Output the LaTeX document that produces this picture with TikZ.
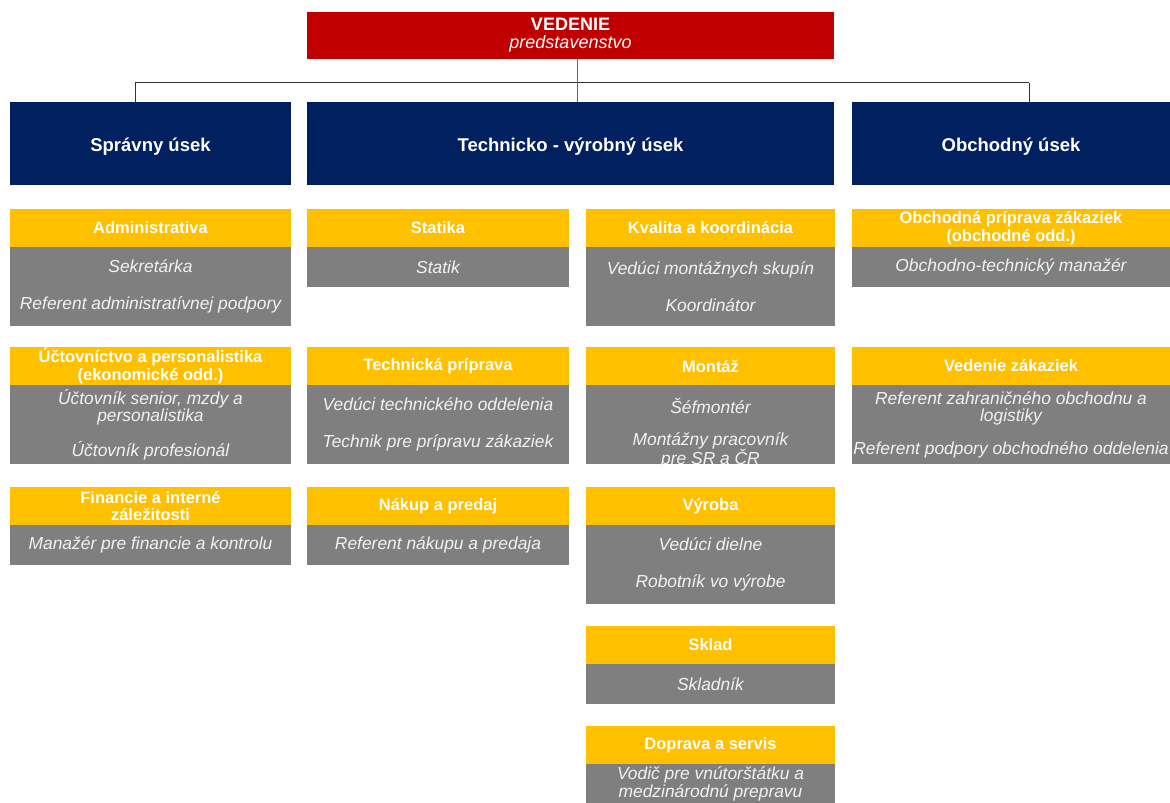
\documentclass[tikz,border=0pt]{standalone}
\usepackage{fontspec}
\setmainfont{Liberation Sans}
\usetikzlibrary{positioning,calc}
\definecolor{vedred}{RGB}{192,0,0}
\definecolor{usekblue}{RGB}{0,32,96}
\definecolor{oddyellow}{RGB}{255,192,0}
\definecolor{pracgray}{RGB}{127,127,127}
\definecolor{pracwhite}{RGB}{242,242,242}
\tikzstyle{vblock} = [fill=vedred, text=white, inner sep=0pt,
    minimum width=527pt, minimum height=47pt, align=center,
    font=\fontsize{18}{18}\selectfont]
\tikzstyle{ublock} = [fill=usekblue, text=white, inner sep=0pt,
    minimum height=83pt, text height=16pt, text depth=0pt,
    font=\fontsize{18.5}{20}\selectfont\bfseries]
\tikzstyle{oblock} = [fill=oddyellow, text=white, inner sep=0pt,
    minimum height=38pt, align=center,
    font=\fontsize{16.5}{17.5}\selectfont\bfseries]
\tikzstyle{pblock} = [fill=pracgray, text=pracwhite, inner sep=0pt,
    align=center, font=\fontsize{17.4}{17.5}\selectfont\itshape]
\tikzstyle{conn} = [draw=black!80, line width=0.9pt]
\tikzstyle{colA} = [minimum width=281pt]
\tikzstyle{colB} = [minimum width=262pt]
\tikzstyle{colC} = [minimum width=249pt]
\tikzstyle{colD} = [minimum width=318pt]
\tikzstyle{oneprac} = [minimum height=40pt]
\tikzstyle{twoprac} = [minimum height=79pt]

\begin{document}
\begin{tikzpicture}[x=1pt, y=-1pt, every node/.style={outer sep=0pt}]
\useasboundingbox (0,0) rectangle (1170,803);

% vedenie a useky
\node (vedenie) [vblock, anchor=north west] at (307,12) {{\bfseries VEDENIE}\\{\itshape predstavenstvo}};
\node (spravny) [ublock, colA, anchor=north west] at (10,102) {Správny úsek};
\node (technicky) [ublock, minimum width=527pt, right=16pt of spravny] {Technicko - výrobný úsek};
\node (obchodny) [ublock, colD, right=18pt of technicky] {Obchodný úsek};

\coordinate (busL) at (135,82.5);
\coordinate (busR) at (1029,82.5);
\draw[conn] (busL) -- (busR);
\draw[conn] (busL) -- (busL |- spravny.north);
\draw[conn] (busR) -- (busR |- obchodny.north);
\draw[conn,draw=black!60] ([xshift=6.5pt]vedenie.south) -- ([xshift=6.5pt]technicky.north);

% spravny usek
\node (admin) [oblock, colA, anchor=north west] at (10,209) {Administrativa};
\node (admin_p) [pblock, colA, twoprac, below=0pt of admin] {Sekretárka\\[19pt]Referent administratívnej podpory};
\node (uctov) [oblock, colA, anchor=north west] at (10,347) {Účtovníctvo a personalistika\\(ekonomické odd.)};
\node (uctov_p) [pblock, colA, twoprac, below=0pt of uctov] {Účtovník senior, mzdy a\\personalistika\\[15pt]Účtovník profesionál};
\node (financie) [oblock, colA, anchor=north west] at (10,487) {Financie a interné\\záležitosti};
\node (financie_p) [pblock, colA, oneprac, below=0pt of financie] {Manažér pre financie a kontrolu};

% technicko - vyrobny usek
\node (statika) [oblock, colB, anchor=north west] at (307,209) {Statika};
\node (statika_p) [pblock, colB, oneprac, below=0pt of statika] {Statik};
\node (techprip) [oblock, colB, anchor=north west] at (307,347) {Technická príprava};
\node (techprip_p) [pblock, colB, twoprac, below=0pt of techprip] {Vedúci technického oddelenia\\[19pt]Technik pre prípravu zákaziek};
\node (nakup) [oblock, colB, anchor=north west] at (307,487) {Nákup a predaj};
\node (nakup_p) [pblock, colB, oneprac, below=0pt of nakup] {Referent nákupu a predaja};

\node (kvalita) [oblock, colC, anchor=north west] at (586,209) {Kvalita a koordinácia};
\node (kvalita_p) [pblock, colC, twoprac, below=0pt of kvalita] {Vedúci montážnych skupín\\[19pt]Koordinátor};
\node (montaz) [oblock, colC, anchor=north west] at (586,347) {Montáž};
\node (montaz_p) [pblock, colC, twoprac, below=0pt of montaz] {};
\node (montaz_t) [pblock, fill=none] at ([yshift=-9pt]montaz_p.center) {Šéfmontér\\[14pt]Montážny pracovník\\pre SR a ČR};
\node (vyroba) [oblock, colC, anchor=north west] at (586,487) {Výroba};
\node (vyroba_p) [pblock, colC, twoprac, below=0pt of vyroba] {Vedúci dielne\\[19pt]Robotník vo výrobe};
\node (sklad) [oblock, colC, anchor=north west] at (586,626) {Sklad};
\node (sklad_p) [pblock, colC, oneprac, below=0pt of sklad] {Skladník};
\node (doprava) [oblock, colC, anchor=north west] at (586,726) {Doprava a servis};
\node (doprava_p) [pblock, colC, oneprac, below=0pt of doprava] {Vodič pre vnútorštátku a\\medzinárodnú prepravu};

% obchodny usek
\node (obchprip) [oblock, colD, anchor=north west] at (852,209) {Obchodná príprava zákaziek\\(obchodné odd.)};
\node (obchprip_p) [pblock, colD, oneprac, below=0pt of obchprip] {Obchodno-technický manažér};
\node (vedzak) [oblock, colD, anchor=north west] at (852,347) {Vedenie zákaziek};
\node (vedzak_p) [pblock, colD, twoprac, below=0pt of vedzak] {Referent zahraničného obchodnu a\\logistiky\\[15pt]Referent podpory obchodného oddelenia};

\end{tikzpicture}
\end{document}
